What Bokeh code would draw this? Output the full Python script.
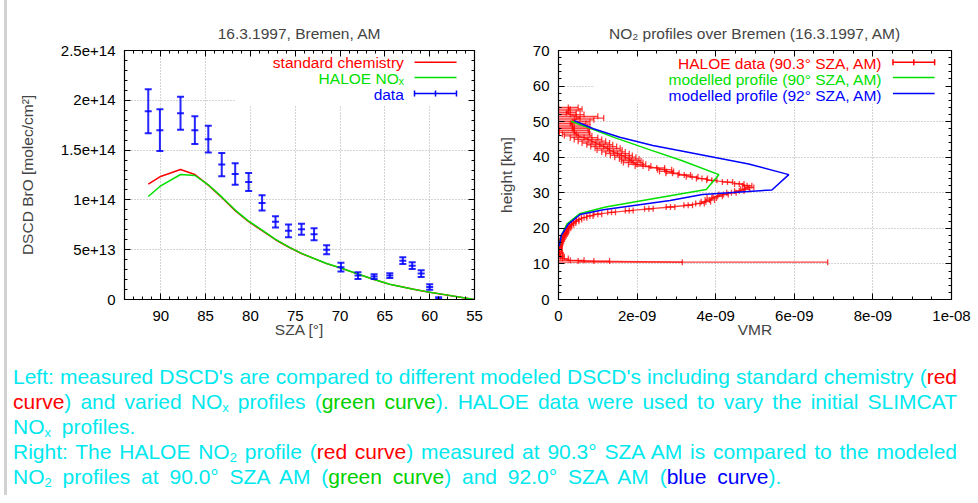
import math
from bokeh.plotting import figure
from bokeh.models import Range1d, FixedTicker, LinearAxis, ColumnDataSource, Div
from bokeh.layouts import column, row
from bokeh.embed import file_html
from bokeh.resources import INLINE
from bokeh.core.properties import value

# ---------------- data: left panel (BrO DSCD vs SZA) ----------------
BRO_SCALE = 1e14
sza_obs = [91.4, 90.1, 87.8, 86.2, 84.7, 83.2, 81.7, 80.2, 78.7, 77.2, 75.75, 74.3,
           72.9, 71.5, 69.9, 68.0, 66.2, 64.45, 63.0, 61.95, 60.95, 60.0, 59.0]
bro_obs = [1.89, 1.70, 1.87, 1.70, 1.61, 1.355, 1.26, 1.18, 0.97, 0.78, 0.69, 0.705,
           0.655, 0.50, 0.325, 0.24, 0.23, 0.24, 0.39, 0.34, 0.26, 0.125, 0.005]
bro_err = [0.22, 0.21, 0.165, 0.14, 0.135, 0.117, 0.107, 0.09, 0.077, 0.057, 0.064, 0.055,
           0.06, 0.045, 0.045, 0.033, 0.023, 0.023, 0.033, 0.033, 0.033, 0.028, 0.018]

sza_model = [91.4, 90.1, 87.8, 86.2, 84.7, 83.2, 81.7, 80.2, 78.7, 77.2, 75.75, 74.3,
             72.9, 71.5, 69.9, 68.0, 66.2, 64.45, 63.0, 61.95, 60.95, 60.0, 59.0, 55.0]
bro_std_chem = [1.158, 1.232, 1.305, 1.255, 1.148, 1.025, 0.892, 0.781, 0.692, 0.600, 0.527, 0.462,
                0.410, 0.360, 0.315, 0.255, 0.200, 0.152, 0.125, 0.105, 0.088, 0.072, 0.058, 0.0]
bro_haloe_nox = [1.034, 1.135, 1.255, 1.245, 1.152, 1.030, 0.898, 0.787, 0.697, 0.603, 0.529, 0.463,
                 0.411, 0.361, 0.316, 0.256, 0.201, 0.153, 0.126, 0.106, 0.089, 0.073, 0.059, 0.0]

sza_ticks = [90, 85, 80, 75, 70, 65, 60, 55]
bro_ticks = [0, 5e13, 1e14, 1.5e14, 2e14, 2.5e14]
bro_tick_labels = ["0", "5e+13", "1e+14", "1.5e+14", "2e+14", "2.5e+14"]

# ---------------- data: right panel (NO2 profiles) ----------------
VMR_SCALE = 1e-9
haloe_h = [54.0, 53.5, 53.0, 52.5, 52.0, 51.5, 51.0, 50.5, 50.0, 49.5, 49.0, 48.5, 48.0, 47.5,
           47.0, 46.5, 46.0, 45.5, 45.0, 44.5, 44.0, 43.5, 43.0, 42.5, 42.0, 41.5, 41.0, 40.5,
           40.0, 39.5, 39.0, 38.5, 38.0, 37.5, 37.0, 36.5, 36.0, 35.5, 35.0, 34.5, 34.0, 33.5,
           33.0, 32.5, 32.0, 31.5, 31.0, 30.5, 30.0, 29.5, 29.0, 28.5, 28.0, 27.5, 27.0, 26.5,
           26.0, 25.5, 25.0, 24.5, 24.0, 23.5, 23.0, 22.5, 22.0, 21.5, 21.0, 20.5, 20.0, 19.5,
           19.0, 18.5, 18.0, 17.5, 17.0, 16.5, 16.0, 15.5, 15.0, 14.5, 14.0, 13.5, 13.0, 12.5,
           12.0, 11.5, 11.0, 10.8, 10.5]
haloe_vmr = [0.25, 0.30, 0.25, 0.20, 0.30, 0.45, 0.55, 0.40, 0.35, 0.30, 0.35, 0.40, 0.35, 0.40,
             0.40, 0.45, 0.50, 0.65, 0.75, 0.85, 0.95, 1.05, 1.15, 1.25, 1.30, 1.40, 1.50, 1.60,
             1.70, 1.80, 1.85, 1.90, 2.00, 2.15, 2.50, 2.70, 2.75, 2.90, 3.20, 3.40, 3.65, 3.90,
             4.30, 4.60, 4.80, 4.85, 4.75, 4.60, 4.40, 4.20, 4.05, 3.90, 3.85, 3.75, 3.60, 3.30,
             2.85, 2.30, 1.80, 1.35, 1.00, 0.80, 0.65, 0.52, 0.45, 0.38, 0.33, 0.28, 0.25, 0.22,
             0.20, 0.18, 0.15, 0.12, 0.10, 0.08, 0.06, 0.05, 0.04, 0.03, 0.02, 0.02, 0.03, 0.04,
             0.05, 0.10, 0.30, 0.90, 3.15]
haloe_err = [0.25, 0.30, 0.30, 0.25, 0.35, 0.55, 0.60, 0.50, 0.45, 0.40, 0.40, 0.40, 0.40, 0.38,
             0.38, 0.35, 0.35, 0.35, 0.35, 0.35, 0.35, 0.33, 0.33, 0.32, 0.32, 0.30, 0.30, 0.28,
             0.27, 0.25, 0.25, 0.25, 0.22, 0.20, 0.20, 0.18, 0.18, 0.17, 0.16, 0.15, 0.14, 0.13,
             0.13, 0.12, 0.12, 0.12, 0.12, 0.12, 0.12, 0.12, 0.12, 0.12, 0.12, 0.12, 0.11, 0.11,
             0.11, 0.11, 0.10, 0.10, 0.10, 0.08, 0.07, 0.07, 0.07, 0.06, 0.06, 0.06, 0.06, 0.05,
             0.05, 0.05, 0.05, 0.05, 0.05, 0.05, 0.05, 0.05, 0.05, 0.05, 0.06, 0.07, 0.07, 0.08,
             0.10, 0.15, 0.35, 0.40, 3.70]

model90_h = [50.1, 48.0, 45.5, 42.0, 39.0, 35.1, 30.9, 28.3, 26.0, 24.2, 21.3, 18.0, 15.0]
model90_vmr = [0.32, 0.84, 1.43, 2.35, 3.15, 4.08, 3.76, 2.40, 1.20, 0.55, 0.22, 0.07, 0.02]
model92_h = [50.3, 48.0, 45.6, 43.3, 42.0, 38.1, 35.1, 30.8, 29.5, 27.8, 25.2, 23.9, 21.2, 18.0, 15.0]
model92_vmr = [0.40, 0.89, 1.56, 2.40, 3.00, 4.84, 5.86, 5.43, 3.66, 2.84, 1.14, 0.55, 0.25, 0.07, 0.02]

vmr_ticks = [0, 2e-9, 4e-9, 6e-9, 8e-9, 1e-8]
vmr_tick_labels = ["0", "2e-09", "4e-09", "6e-09", "8e-09", "1e-08"]
h_ticks = [0, 10, 20, 30, 40, 50, 60, 70]

# ---------------- styling ----------------
FONT = "Liberation Sans"
RED = "#ff0000"
GREEN = "#00e000"
BLUE = "#0000ff"
FS = "15px"
FS_T = "15.5px"


def style(p):
    p.outline_line_color = "black"
    p.outline_line_width = 1.2
    p.background_fill_color = "white"
    p.border_fill_color = None
    p.title.text_font = FONT
    p.title.text_font_size = FS_T
    p.title.text_font_style = "normal"
    p.title.align = "center"
    for ax in p.axis:
        ax.major_label_text_font = FONT
        ax.major_label_text_font_size = FS
        ax.major_label_text_color = "black"
        ax.axis_label_text_font = FONT
        ax.axis_label_text_font_size = FS_T
        ax.axis_label_text_font_style = "normal"
        ax.major_tick_in = 6
        ax.major_tick_out = 0
        ax.minor_tick_in = 3
        ax.minor_tick_out = 0
        ax.axis_line_color = "black"
        ax.major_tick_line_color = "black"
        ax.minor_tick_line_color = "black"
    for g in p.grid:
        g.grid_line_color = "#a8a8a8"
        g.grid_line_dash = "1 2"
        g.grid_line_width = 1


def mirror_axes(p, xticks, xminor, yticks, yminor):
    for loc, tk, mn in (("above", xticks, xminor), ("right", yticks, yminor)):
        ax = LinearAxis(ticker=FixedTicker(ticks=tk, minor_ticks=mn))
        ax.major_label_overrides = {t: "" for t in tk}
        ax.major_label_standoff = 0
        p.add_layout(ax, loc)


H_FIG = 345
B_BOT = 46

# ================= LEFT FIGURE =================
X0, X1 = 94.05, 55.0
Y0, Y1 = 0.0, 2.5e14
FW1, FH1 = 350, 249
sza_minor = list(range(55, 95))
bro_minor = [i * 1e13 for i in range(26)]
p1 = figure(width=494, height=H_FIG, x_range=Range1d(X0, X1), y_range=Range1d(Y0, Y1),
            output_backend="svg", toolbar_location=None, title="16.3.1997, Bremen, AM",
            min_border_left=124, min_border_right=20, min_border_top=50, min_border_bottom=B_BOT)
bx1, ly1 = p1.below[0], p1.left[0]
bx1.ticker = FixedTicker(ticks=sza_ticks, minor_ticks=sza_minor)
ly1.ticker = FixedTicker(ticks=bro_ticks, minor_ticks=bro_minor)
ly1.major_label_overrides = dict(zip(bro_ticks, bro_tick_labels))
bx1.axis_label = "SZA [°]"
ly1.axis_label = "DSCD BrO [molec/cm²]"
mirror_axes(p1, sza_ticks, sza_minor, bro_ticks, bro_minor)
style(p1)
p1.title.standoff = 17
bx1.major_label_standoff = 11
bx1.axis_label_standoff = -3
ly1.major_label_standoff = 9
ly1.axis_label_standoff = 22


def l_x(dx):
    return X0 + (X1 - X0) * dx / FW1


def l_y(dy):
    return Y1 - (Y1 - Y0) * dy / FH1


# legend box (opaque, hides grid)
p1.quad(left=[l_x(111)], right=[l_x(345)], top=[l_y(0)], bottom=[l_y(55)],
        fill_color="white", line_color=None)

p1.line(sza_model, [b * BRO_SCALE for b in bro_std_chem], color=RED, line_width=1.5)
p1.line(sza_model, [b * BRO_SCALE for b in bro_haloe_nox], color=GREEN, line_width=1.5)

obs = ColumnDataSource(dict(
    x=sza_obs,
    y=[b * BRO_SCALE for b in bro_obs],
    lo=[(b - e) * BRO_SCALE for b, e in zip(bro_obs, bro_err)],
    hi=[(b + e) * BRO_SCALE for b, e in zip(bro_obs, bro_err)],
))
p1.segment(x0="x", y0="lo", x1="x", y1="hi", source=obs, color=BLUE, line_width=2, line_alpha=0.85)
for col in ("lo", "hi", "y"):
    p1.scatter(x="x", y=col, source=obs, marker="dash", size=7, line_color=BLUE,
               line_width=2, line_alpha=0.85)

# legend entries
rows = [11.7, 27.0, 43.0]
p1.text(x=[l_x(279.3)] * 3, y=[l_y(r + 0.5) for r in rows],
        text=["standard chemistry", "HALOE NOₓ", "data"],
        text_color=[RED, GREEN, BLUE], text_align="right", text_baseline="middle",
        text_font=value(FONT), text_font_size=FS_T)
p1.segment(x0=[l_x(290)] * 3, y0=[l_y(r) for r in rows], x1=[l_x(332)] * 3,
           y1=[l_y(r) for r in rows], line_color=[RED, GREEN, BLUE], line_width=1.5)
p1.scatter(x=[l_x(290), l_x(311), l_x(332)], y=[l_y(rows[2])] * 3, marker="dash",
           angle=math.pi / 2, size=6, line_color=BLUE, line_width=1.5)

# ================= RIGHT FIGURE =================
V0, V1 = 0.0, 1e-8
H0, H1 = 0.0, 70.0
FW2, FH2 = 396, 249
vmr_minor = [i * 0.5e-9 for i in range(21)]
h_minor = list(range(0, 71, 2))
p2 = figure(width=477, height=H_FIG, x_range=Range1d(V0, V1), y_range=Range1d(H0, H1),
            output_backend="svg", toolbar_location=None,
            title="NO₂ profiles over Bremen (16.3.1997, AM)",
            min_border_left=61, min_border_right=20, min_border_top=50, min_border_bottom=B_BOT)
bx2, ly2 = p2.below[0], p2.left[0]
bx2.ticker = FixedTicker(ticks=vmr_ticks, minor_ticks=vmr_minor)
ly2.ticker = FixedTicker(ticks=h_ticks, minor_ticks=h_minor)
bx2.major_label_overrides = dict(zip(vmr_ticks, vmr_tick_labels))
bx2.axis_label = "VMR"
ly2.axis_label = "height [km]"
mirror_axes(p2, vmr_ticks, vmr_minor, h_ticks, h_minor)
style(p2)
p2.title.standoff = 17
bx2.major_label_standoff = 11
bx2.axis_label_standoff = -3
ly2.major_label_standoff = 9
ly2.axis_label_standoff = 15


def r_x(dx):
    return V0 + (V1 - V0) * dx / FW2


def r_y(dy):
    return H1 - (H1 - H0) * dy / FH2


p2.quad(left=[r_x(36)], right=[r_x(396)], top=[r_y(0)], bottom=[r_y(53)],
        fill_color="white", line_color=None)

hv = [v * VMR_SCALE for v in haloe_vmr]
he = [e * VMR_SCALE for e in haloe_err]
hs = ColumnDataSource(dict(h=haloe_h, v=hv,
                           lo=[a - b for a, b in zip(hv, he)],
                           hi=[a + b for a, b in zip(hv, he)]))
p2.segment(x0="lo", y0="h", x1="hi", y1="h", source=hs, color=RED, line_width=1.3, line_alpha=0.75)
for col in ("lo", "hi", "v"):
    p2.scatter(x=col, y="h", source=hs, marker="dash", angle=math.pi / 2, size=6,
               line_color=RED, line_width=1.3, line_alpha=0.75)
p2.line(x="v", y="h", source=hs, color=RED, line_width=1.3, line_alpha=0.75)

p2.line([v * VMR_SCALE for v in model90_vmr], model90_h, color=GREEN, line_width=1.5)
p2.line([v * VMR_SCALE for v in model92_vmr], model92_h, color=BLUE, line_width=1.5)

p2.text(x=[r_x(326.3)] * 3, y=[r_y(r + 1.5) for r in rows],
        text=["HALOE data (90.3° SZA, AM)", "modelled profile (90° SZA, AM)",
              "modelled profile (92° SZA, AM)"],
        text_color=[RED, GREEN, BLUE], text_align="right", text_baseline="middle",
        text_font=value(FONT), text_font_size=FS_T)
p2.segment(x0=[r_x(337)] * 3, y0=[r_y(r) for r in rows], x1=[r_x(379)] * 3,
           y1=[r_y(r) for r in rows], line_color=[RED, GREEN, BLUE], line_width=1.5)
p2.scatter(x=[r_x(337), r_x(358), r_x(379)], y=[r_y(rows[0])] * 3, marker="dash",
           angle=math.pi / 2, size=6, line_color=RED, line_width=1.5)

# ================= caption =================
CY = "#00e8ee"
R = '<span style="color:#ff0000">'
G = '<span style="color:#00d000">'
B = '<span style="color:#0000ff">'
E = '</span>'
S = '<span style="position:relative;top:3px;font-size:13px;line-height:0">'
J = 'text-align:justify;text-align-last:justify;white-space:nowrap;height:25px;'
L = 'text-align:left;white-space:nowrap;word-spacing:5px;height:25px;'
caption = (
    f'<div style="font-family:\'Liberation Sans\',sans-serif;'
    f'font-size:21px;line-height:25px;color:{CY};width:957px;padding-left:13px;padding-top:19px;">'
    f'<div style="{J}">Left: measured DSCD\'s are compared to different modeled DSCD\'s including standard chemistry ({R}red{E}</div>'
    f'<div style="{J}">{R}curve{E}) and varied NO{S}x{E} profiles ({G}green curve{E}).  HALOE data were used to vary the initial SLIMCAT</div>'
    f'<div style="{L}">NO{S}x{E} profiles.</div>'
    f'<div style="{J}">Right: The HALOE NO{S}2{E} profile ({R}red curve{E}) measured at 90.3° SZA AM is compared to the modeled</div>'
    f'<div style="{L}">NO{S}2{E} profiles at 90.0° SZA AM ({G}green curve{E}) and 92.0° SZA AM ({B}blue curve{E}).</div>'
    '</div>'
)
div = Div(text=caption, width=975, height=150, margin=0)

layout = column(row(p1, p2), div,
                styles={"background": "linear-gradient(to right, white 4px, #d2d2d2 4px, "
                                      "#d2d2d2 7px, white 7px)"})
open("out.html", "w").write(file_html(layout, INLINE))
